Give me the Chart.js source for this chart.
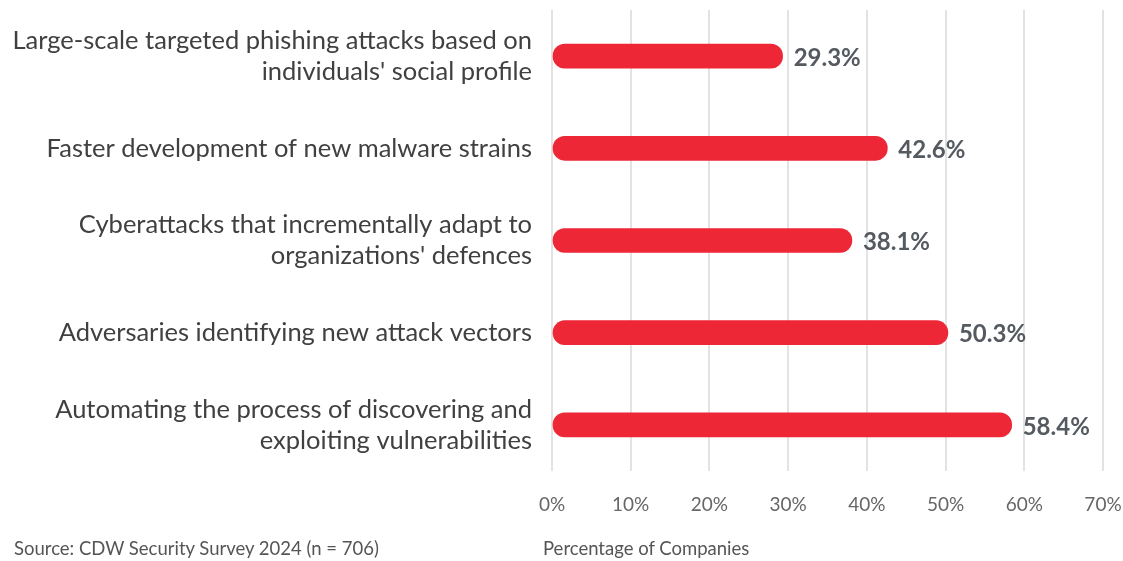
<!DOCTYPE html>
<html>
<head>
<meta charset="utf-8">
<script src="https://cdn.jsdelivr.net/npm/chart.js@4/dist/chart.umd.min.js"></script>
<style>
  html, body { margin: 0; padding: 0; background: #fff; }
  #wrap { position: relative; width: 1123px; height: 561px; }
  .foot { position: absolute; top: 537px; font: 18.5px Lato, sans-serif; color: #555; white-space: nowrap; }
</style>
</head>
<body>
<div id="wrap">
  <canvas id="chart" width="1123" height="561"></canvas>
  <div class="foot" style="left:14px">Source: CDW Security Survey 2024 (n = 706)</div>
  <div class="foot" style="left:543px">Percentage of Companies</div>
</div>
<script>
var categories = [
  ['Large-scale targeted phishing attacks based on', "individuals' social profile"],
  'Faster development of new malware strains',
  ['Cyberattacks that incrementally adapt to', "organizations' defences"],
  'Adversaries identifying new attack vectors',
  ['Automating the process of discovering and', 'exploiting vulnerabilities']
];
var values = [29.3, 42.6, 38.1, 50.3, 58.4];
var tickValues = [0, 10, 20, 30, 40, 50, 60, 70];

// value labels to the right of each bar
var valueLabels = {
  id: 'valueLabels',
  afterDatasetsDraw: function(chart) {
    var ctx = chart.ctx;
    var meta = chart.getDatasetMeta(0);
    ctx.save();
    ctx.font = 'bold 24px Lato, sans-serif';
    ctx.fillStyle = '#555a60';
    ctx.textAlign = 'left';
    ctx.textBaseline = 'middle';
    meta.data.forEach(function(bar, i) {
      ctx.fillText(values[i].toFixed(1) + '%', bar.x + 11, bar.y + 2);
    });
    ctx.restore();
  }
};

new Chart(document.getElementById('chart'), {
  type: 'bar',
  data: {
    labels: categories,
    datasets: [{
      data: values,
      backgroundColor: '#ee2737',
      borderRadius: 12,
      borderSkipped: false,
      barThickness: 24
    }]
  },
  plugins: [valueLabels],
  options: {
    indexAxis: 'y',
    responsive: false,
    animation: false,
    layout: { padding: { top: 10, right: 20, bottom: 45, left: 0 } },
    plugins: { legend: { display: false }, tooltip: { enabled: false } },
    scales: {
      x: {
        min: 0,
        max: 70,
        afterBuildTicks: function(scale) {
          scale.ticks = tickValues.map(function(v) { return { value: v }; });
        },
        afterFit: function(scale) {
          scale.height = 45;
          scale.paddingLeft = 0;
          scale.paddingRight = 0;
        },
        grid: { color: '#e3e3e3', lineWidth: 2, drawTicks: false },
        border: { display: false },
        ticks: {
          padding: 22,
          color: '#666',
          font: { family: 'Lato', size: 19 },
          callback: function(v) { return v + '%'; }
        }
      },
      y: {
        afterFit: function(scale) {
          scale.width = 552;
          scale.paddingTop = 0;
          scale.paddingBottom = 0;
        },
        grid: { display: false },
        border: { display: false },
        ticks: {
          padding: 12,
          color: '#404040',
          font: { family: 'Lato', size: 25.5, lineHeight: 1.22 }
        }
      }
    }
  }
});
</script>
</body>
</html>
